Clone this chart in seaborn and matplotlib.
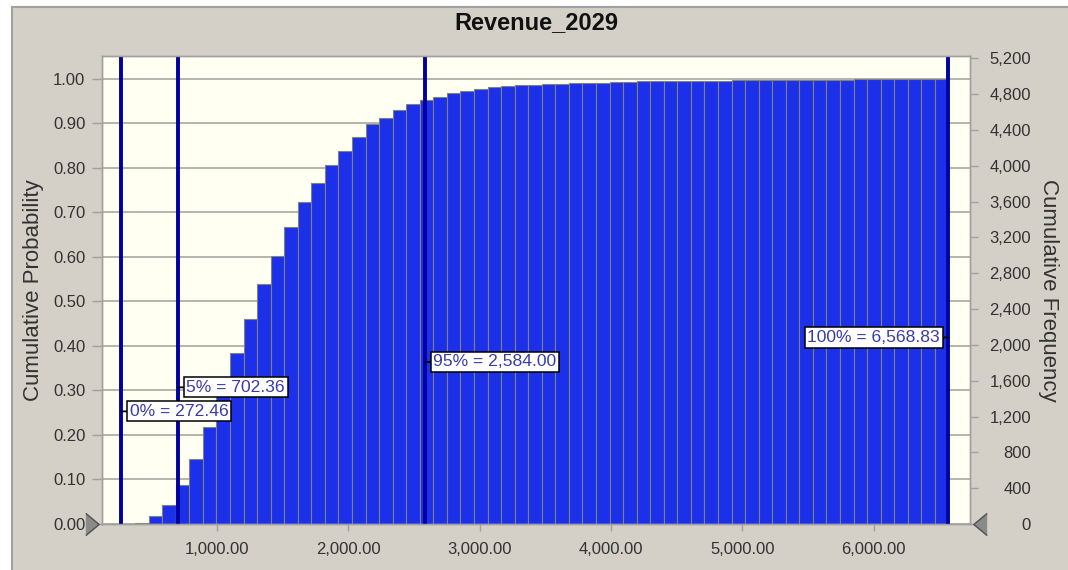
import numpy as np
import pandas as pd
import matplotlib
matplotlib.use("Agg")
import matplotlib.pyplot as plt
import matplotlib.patches as patches
from matplotlib.ticker import FuncFormatter, MultipleLocator
import seaborn as sns

# data
revenue_min = 272.46
revenue_max = 6568.83
n_bins = 61
cum_prob = [0.0004, 0.003, 0.018, 0.042, 0.088, 0.146, 0.217, 0.300, 0.384, 0.461,
            0.538, 0.603, 0.667, 0.723, 0.767, 0.806, 0.838, 0.869, 0.898, 0.913,
            0.931, 0.944, 0.953, 0.959, 0.967, 0.973, 0.977, 0.981, 0.984, 0.985,
            0.987, 0.988, 0.988, 0.990, 0.991, 0.991, 0.992, 0.993, 0.994, 0.994,
            0.994, 0.994, 0.995, 0.995, 0.995, 0.997, 0.997, 0.997, 0.997, 0.998,
            0.998, 0.998, 0.998, 0.998, 0.999, 0.999, 0.999, 0.999, 0.999, 0.999,
            1.000]
pct_names = ["0%", "5%", "95%", "100%"]
pct_values = [272.46, 702.36, 2584.00, 6568.83]
pct_label_y = [0.253, 0.307, 0.364, 0.419]
n_trials_axis_max = 5200

sns.set_style("white")
plt.rcParams['font.family'] = ['Liberation Sans', 'DejaVu Sans']

edges = np.linspace(revenue_min, revenue_max, n_bins + 1)
centers = (edges[:-1] + edges[1:]) / 2
df = pd.DataFrame({"revenue": centers, "prob": cum_prob})

fig = plt.figure(figsize=(10.68, 5.70), dpi=100)
fig.patch.set_facecolor("white")
panel = patches.Rectangle((12 / 1068, -0.01), 1.0, 1 - 7 / 570 + 0.01, transform=fig.transFigure,
                          facecolor="#D4D0C8", edgecolor="#A0A0A0", linewidth=1.5, zorder=-10)
fig.add_artist(panel)

ax = fig.add_axes([102 / 1068, 46 / 570, 868 / 1068, 468 / 570])
ax.set_facecolor("#FFFFF2")

sns.histplot(data=df, x="revenue", weights="prob", bins=n_bins,
             binrange=(revenue_min, revenue_max), ax=ax,
             color="#1B30E8", edgecolor="#808080", linewidth=0.8, alpha=1, zorder=2)

ax.set_xlim(124, 6733)
ax.set_ylim(0, 1.0512)
ax.set_xlabel("")
ax.set_ylabel("")
ax.yaxis.set_major_locator(MultipleLocator(0.1))
ax.yaxis.set_major_formatter(FuncFormatter(lambda v, p: f"{v:.2f}"))
ax.set_xticks([1000, 2000, 3000, 4000, 5000, 6000])
ax.xaxis.set_major_formatter(FuncFormatter(lambda v, p: f"{v:,.2f}"))
ax.grid(axis="y", color="#A8A8A0", linewidth=1.2)
ax.set_axisbelow(True)
ax.tick_params(axis="y", left=True, length=7, width=1, color="#A0A0A0", pad=5,
               labelsize=12, labelcolor="#333333")
ax.tick_params(axis="x", bottom=True, length=5, width=1, color="#A0A0A0", pad=8,
               labelsize=12, labelcolor="#333333")
for s in ax.spines.values():
    s.set_color("#A0A0A0")
    s.set_linewidth(1)

for name, val, ly in zip(pct_names, pct_values, pct_label_y):
    ax.axvline(val, color="#0000A0", linewidth=2.8, zorder=3)
    right_side = name != "100%"
    ax.annotate(f"{name} = {val:,.2f}", xy=(val, ly),
                xytext=(6 if right_side else -6, 0), textcoords="offset points",
                ha="left" if right_side else "right", va="center",
                fontsize=12.6, color="#3A3AA8", zorder=5,
                bbox=dict(boxstyle="square,pad=0.15", fc="white", ec="black", lw=1.1),
                arrowprops=dict(arrowstyle="-", color="black", lw=1.3, shrinkA=0, shrinkB=0))

ax2 = ax.twinx()
ax2.set_ylim(0, 5225)
ax2.set_yticks(np.arange(0, n_trials_axis_max + 1, 400))
ax2.yaxis.set_major_formatter(FuncFormatter(lambda v, p: f"{int(v):,}"))
ax2.tick_params(axis="y", right=True, length=6, width=1, color="#A0A0A0", pad=38,
                labelsize=12, labelcolor="#333333")
for lab in ax2.get_yticklabels():
    lab.set_horizontalalignment("right")
for s in ax2.spines.values():
    s.set_color("#A0A0A0")
    s.set_linewidth(1)

# slider handles
tri_right = [(-0.6, 1), (0.6, 0), (-0.6, -1)]
tri_left = [(0.6, 1), (-0.6, 0), (0.6, -1)]
ax2.plot([-0.012], [0], transform=ax2.transAxes, marker=tri_right, markersize=16,
         color="#8A8A8A", markeredgecolor="#505050", clip_on=False, zorder=6)
ax2.plot([1.012], [0], transform=ax2.transAxes, marker=tri_left, markersize=16,
         color="#8A8A8A", markeredgecolor="#505050", clip_on=False, zorder=6)

fig.text(536 / 1068, 1 - 23 / 570, "Revenue_2029", ha="center", va="center",
         fontsize=17, fontweight="bold", color="#111111")
fig.text(34 / 1068, 1 - 290 / 570, "Cumulative Probability", rotation=90,
         ha="center", va="center", fontsize=16, color="#333333")
fig.text(1048 / 1068, 1 - 290 / 570, "Cumulative Frequency", rotation=270,
         ha="center", va="center", fontsize=16, color="#333333")

fig.savefig("out.png", dpi=100, facecolor=fig.get_facecolor())
